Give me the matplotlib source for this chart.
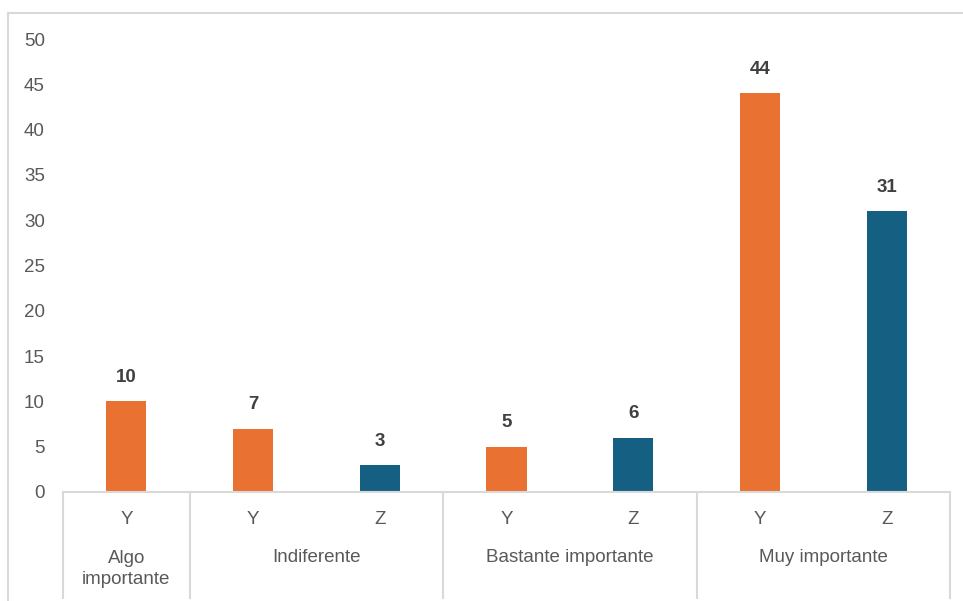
import matplotlib.pyplot as plt
from matplotlib.lines import Line2D
import matplotlib.transforms as mtransforms

# survey answers: one bar per (group, series) pair
groups = ['Algo\nimportante', 'Indiferente', 'Bastante importante', 'Muy importante']
group_sizes = [1, 2, 2, 2]
bar_labels = ['Y', 'Y', 'Z', 'Y', 'Z', 'Y', 'Z']
values = [10, 7, 3, 5, 6, 44, 31]

colors = {'Y': '#E97132', 'Z': '#156082'}
text_gray = '#595959'
line_gray = '#D9D9D9'

plt.rcParams['font.family'] = ['Liberation Sans', 'DejaVu Sans']

W, H = 963, 601
fig = plt.figure(figsize=(W / 100, H / 100), dpi=100)
ax = fig.add_axes([63 / W, (H - 492) / H, (950 - 63) / W, (492 - 39) / H])

x = list(range(len(values)))
ax.bar(x, values, width=40 / 126.7, color=[colors[s] for s in bar_labels])
for xi, v in zip(x, values):
    ax.annotate(str(v), (xi, v), xytext=(0, 11), textcoords='offset points',
                ha='center', va='bottom', fontsize=13.5, fontweight='bold',
                color='#404040')

ax.set_xlim(-0.5, len(values) - 0.5)
ax.set_ylim(0, 50)
ax.set_yticks(range(0, 51, 5))
ax.tick_params(axis='y', length=0, labelsize=13.5, labelcolor=text_gray, pad=13)
ax.set_xticks([])
for side in ['top', 'right', 'left']:
    ax.spines[side].set_visible(False)
ax.spines['bottom'].set_color(line_gray)
ax.spines['bottom'].set_linewidth(1.5)

# two-level category axis drawn below the plot
trans = mtransforms.blended_transform_factory(ax.transData, fig.transFigure)
def fy(py):
    return (H - py) / H

for xi, lab in zip(x, bar_labels):
    ax.text(xi, fy(520), lab, transform=trans, ha='center', va='center',
            fontsize=13.5, color=text_gray)

start = 0
edges = [-0.5]
for g, n in zip(groups, group_sizes):
    center = start + (n - 1) / 2
    ax.text(center, fy(569) if '\n' in g else fy(557), g, transform=trans,
            ha='center', va='center', fontsize=13.5, color=text_gray,
            linespacing=1.35)
    start += n
    edges.append(start - 0.5)
for e in edges:
    fig.add_artist(Line2D([e, e], [fy(492), fy(598)], transform=trans,
                          color=line_gray, lw=1.5))

# chart frame edges
fig.add_artist(Line2D([8 / W, 1], [fy(13), fy(13)], color=line_gray, lw=1.5))
fig.add_artist(Line2D([8 / W, 8 / W], [fy(13), 0], color=line_gray, lw=1.5))

fig.savefig('out.png', dpi=100)
